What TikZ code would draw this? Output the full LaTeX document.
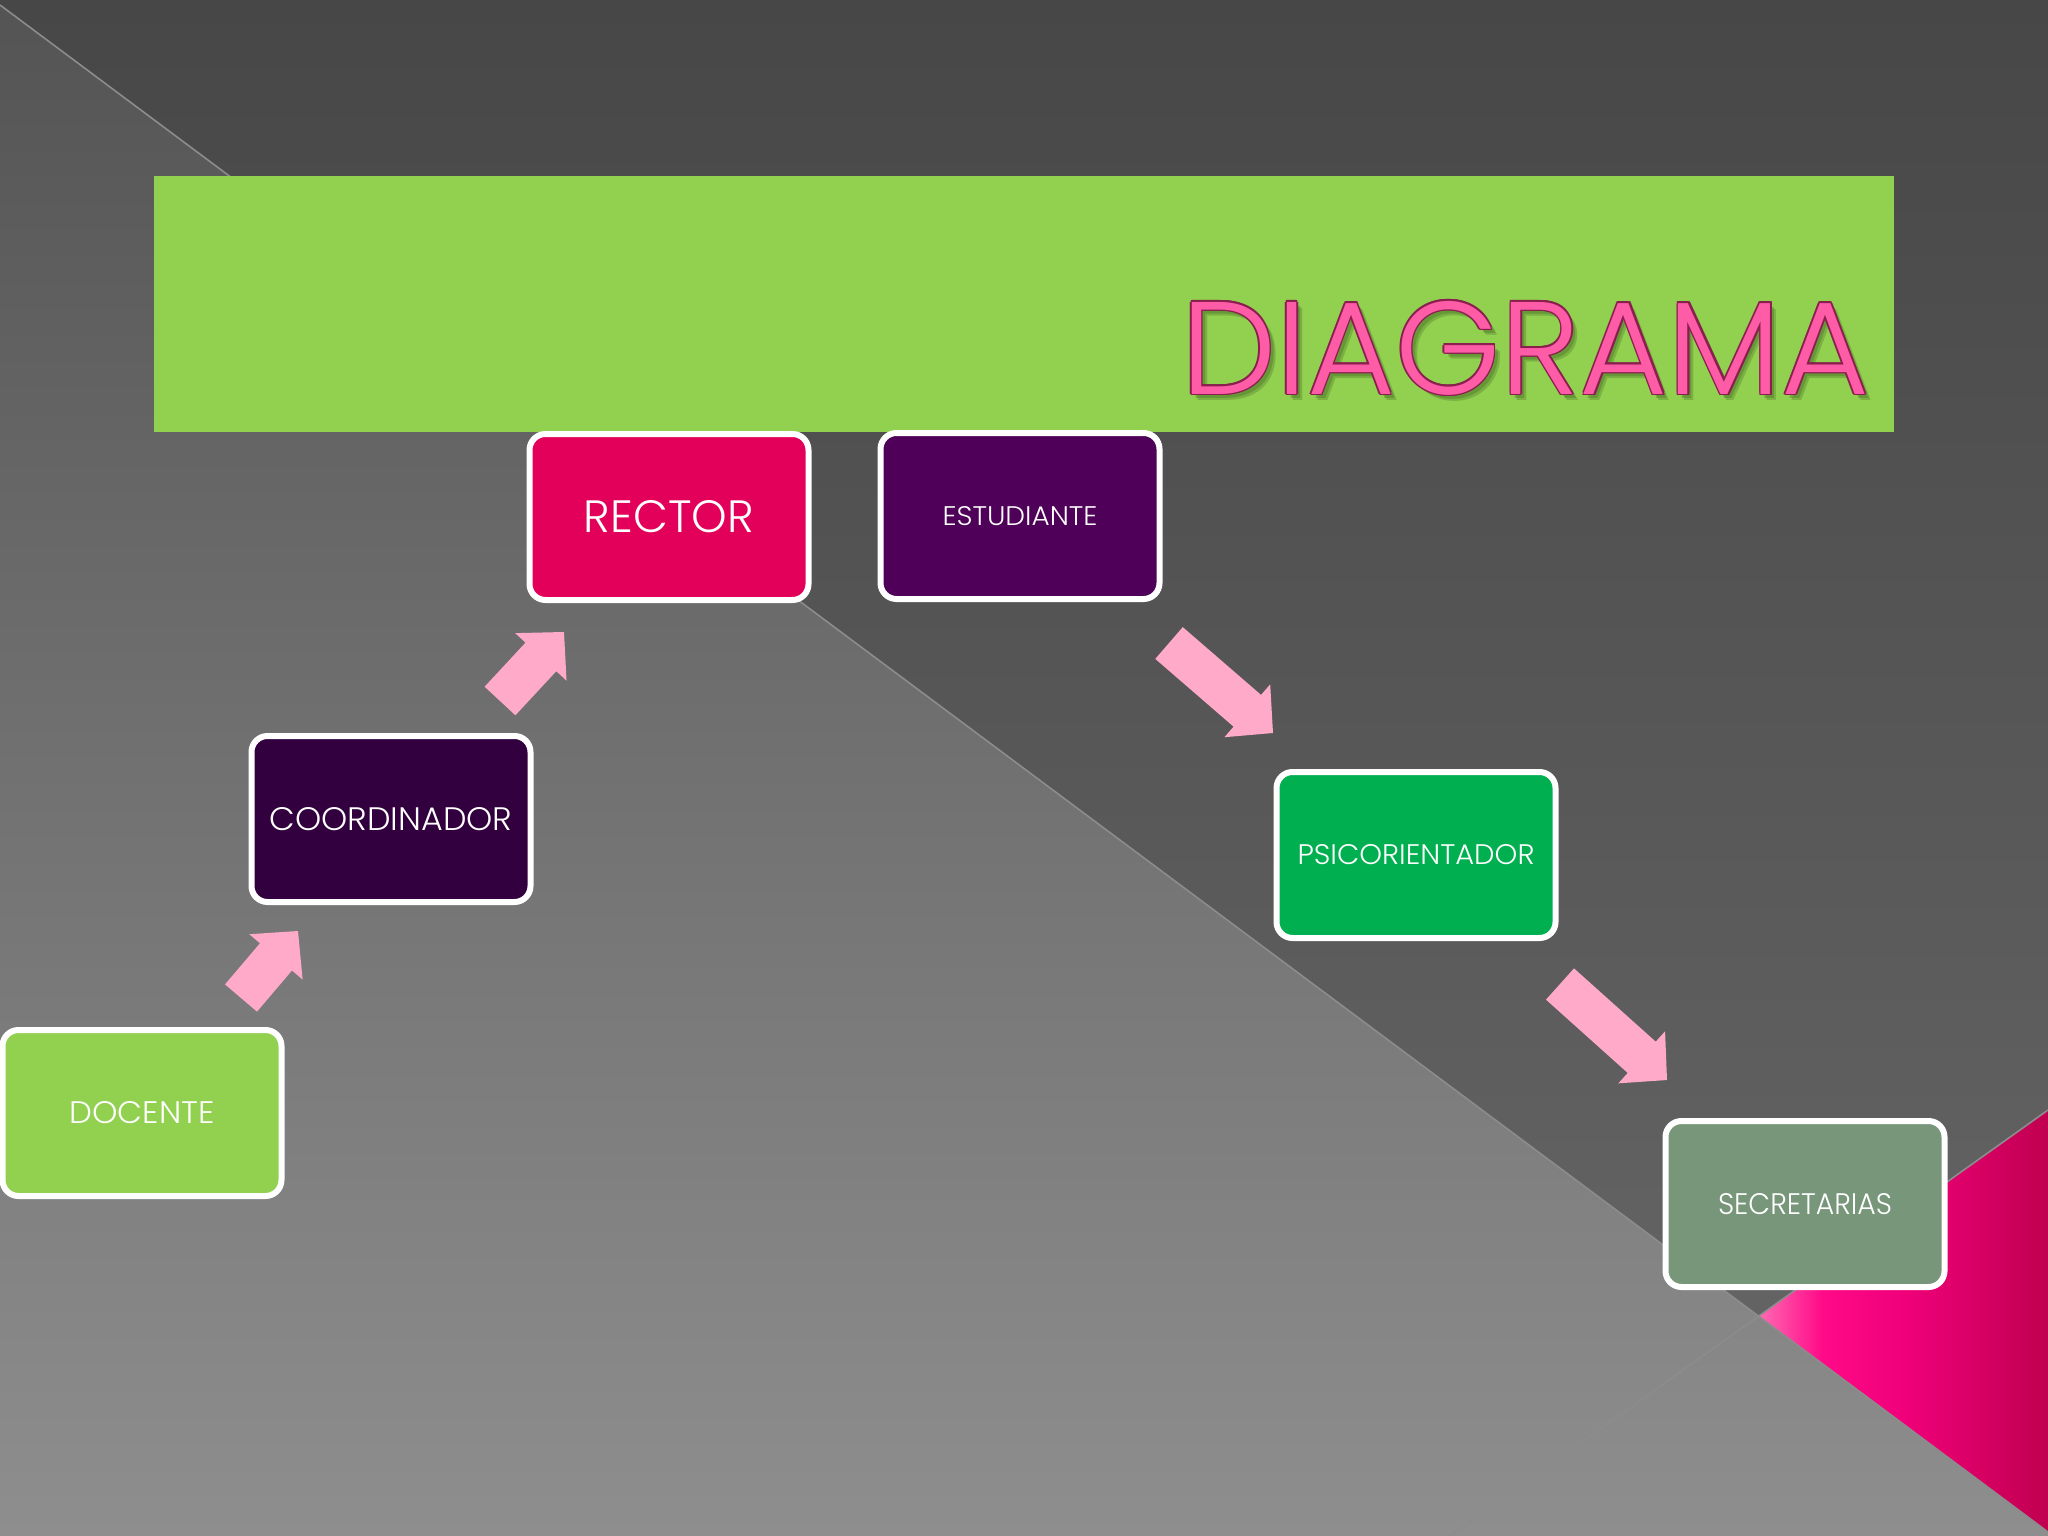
\documentclass[tikz,border=0pt]{standalone}
\usepackage{fontspec}
\IfFontExistsTF{Poppins Light}{\setmainfont{Poppins Light}}{\setmainfont{Poppins}}
\usetikzlibrary{calc}
\definecolor{urtop}{HTML}{474747}
\definecolor{urbot}{HTML}{686868}
\definecolor{lltop}{HTML}{545454}
\definecolor{llbot}{HTML}{8E8E8E}
\definecolor{seam}{HTML}{8C8C8C}
\definecolor{pinkA}{HTML}{FF6AB2}
\definecolor{pinkB}{HTML}{FF0A88}
\definecolor{pinkD}{HTML}{F0007A}
\definecolor{pinkC}{HTML}{C0004F}
\definecolor{bannergreen}{HTML}{92D050}
\definecolor{titlepink}{HTML}{FF5CA8}
\definecolor{titleline}{HTML}{8A1F4E}
\definecolor{titleshadow}{HTML}{4E7A2A}
\definecolor{arrowpink}{HTML}{FFAAC8}
\definecolor{rectorc}{HTML}{E2005A}
\definecolor{estc}{HTML}{4F0059}
\definecolor{coordc}{HTML}{32003E}
\definecolor{docc}{HTML}{92D050}
\definecolor{psic}{HTML}{00B050}
\definecolor{secc}{HTML}{77967A}
\pgfdeclarehorizontalshading{pinktri}{100bp}{color(0bp)=(pinkA); color(25bp)=(pinkA);
  color(36bp)=(pinkB); color(50bp)=(pinkD); color(75bp)=(pinkC); color(100bp)=(pinkC)}
\newcommand\fitto[3]{\resizebox{#1pt}{#2pt}{#3}}
\newcommand\dtext{\resizebox{688pt}{93pt}{DIAGRAMA}}
\newcommand\blockarrow[2]{%
  \coordinate (#1back) at ($(#2)!34pt!(#1)$);
  \fill[arrowpink]
    ($(#1)!21pt!90:(#2)$) -- ($(#1back)!21pt!90:(#2)$) -- ($(#1back)!35pt!90:(#2)$)
    -- (#2)
    -- ($(#1back)!35pt!-90:(#2)$) -- ($(#1back)!21pt!-90:(#2)$) -- ($(#1)!21pt!-90:(#2)$) -- cycle;}
\tikzset{
  box/.style={draw=white, line width=6pt, rounded corners=16pt,
    minimum width=279pt, minimum height=166pt, inner sep=0pt, text=white},
  seamline/.style={draw=seam, line width=1.6pt},
  titletext/.style={anchor=base west, inner sep=0pt}
}
\begin{document}
\begin{tikzpicture}[x=1pt,y=-1pt]
\useasboundingbox (0,0) rectangle (2048,1536);
% background
\shade[top color=urtop, bottom color=urbot] (0,0) rectangle (2048,1536);
\shade[top color=lltop, bottom color=llbot] (0,5) -- (2048,1532) -- (2048,1536) -- (0,1536) -- cycle;
\shade[shading=pinktri] (1759,1316) -- (2048,1110) -- (2048,1532) -- cycle;
\draw[seamline] (0,5) -- (2048,1532);
\draw[seamline] (1450,1536) -- (2048,1110);
% banner
\fill[bannergreen] (154,176) rectangle (1894,432);
\node[titletext, text=titleshadow, opacity=0.35] at (1187,400) {\dtext};
\node[titletext, text=titleshadow, opacity=0.45] at (1185,398) {\dtext};
\foreach \dx/\dy in {1.6/0,-1.6/0,0/1.6,0/-1.6,1.1/1.1,-1.1/1.1,1.1/-1.1,-1.1/-1.1}
  \node[titletext, text=titleline] at ($(1181,394)+(\dx,\dy)$) {\dtext};
\node[titletext, text=titlepink] (title) at (1181,394) {\dtext};
% boxes
\node[box, fill=rectorc] (rector) at (669,517) {\fitto{170}{32}{RECTOR}};
\node[box, fill=estc] (est) at (1020,516) {\fitto{155}{19}{ESTUDIANTE}};
\node[box, fill=coordc] (coord) at (391,819) {\fitto{243}{23}{COORDINADOR}};
\node[box, fill=docc] (doc) at (142,1113) {\fitto{145}{22}{DOCENTE}};
\node[box, fill=psic] (psi) at (1416,855) {\fitto{237}{20}{PSICORIENTADOR}};
\node[box, fill=secc] (sec) at (1805,1204) {\fitto{174}{21}{SECRETARIAS}};
% arrows
\coordinate (a1s) at (241,998);   \coordinate (a1e) at (298,931);
\coordinate (a2s) at (500,701);   \coordinate (a2e) at (564,632);
\coordinate (a3s) at (1169,643);  \coordinate (a3e) at (1273,733);
\coordinate (a4s) at (1560,984);  \coordinate (a4e) at (1667,1080);
\blockarrow{a1s}{a1e}
\blockarrow{a2s}{a2e}
\blockarrow{a3s}{a3e}
\blockarrow{a4s}{a4e}
\end{tikzpicture}
\end{document}
